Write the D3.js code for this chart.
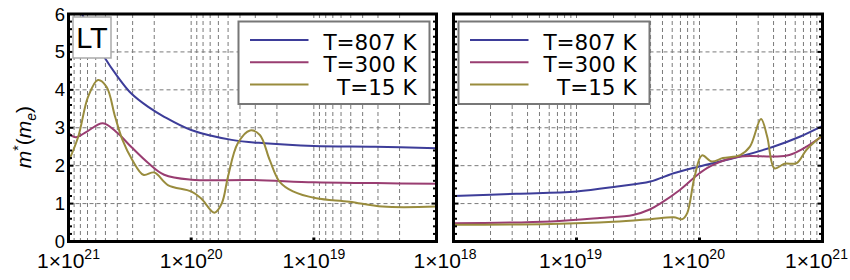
<!DOCTYPE html>
<html>
<head>
<meta charset="utf-8">
<script src="https://cdn.jsdelivr.net/npm/d3@7"></script>
<style>
  body { margin: 0; background: #fff; }
  svg { display: block; }
</style>
</head>
<body>
<svg id="chart" width="850" height="280"></svg>
<script>
// DATA (x values are log10 of the density, y values are m*/m_e)
const seriesNames = ['T=807 K', 'T=300 K', 'T=15 K'];
const seriesColors = ['#3d3d99', '#993d71', '#998c3d'];

// left panel, density falls from 1e21 to 1e18
const leftBlueLog = [21.0, 20.89, 20.8, 20.71, 20.6, 20.49, 20.35, 20.22, 20.0, 19.67, 19.4, 19.0, 18.5, 18.0];
const leftBlueVal = [6.8, 6.0, 5.4, 4.87, 4.35, 3.91, 3.55, 3.29, 2.94, 2.68, 2.59, 2.52, 2.50, 2.46];
const leftPinkLog = [21.0, 20.94, 20.85, 20.72, 20.6, 20.49, 20.35, 20.22, 20.0, 19.5, 19.0, 18.5, 18.0];
const leftPinkVal = [2.86, 2.75, 2.9, 3.12, 2.86, 2.50, 2.07, 1.76, 1.63, 1.62, 1.56, 1.54, 1.52];
const leftOliveLog = [21.0, 20.92, 20.84, 20.76, 20.69, 20.62, 20.56, 20.48, 20.39, 20.30, 20.19, 20.0, 19.92,
  19.81, 19.75, 19.70, 19.62, 19.52, 19.44, 19.36, 19.28, 19.17, 18.98, 18.71, 18.44, 18.0];
const leftOliveVal = [2.11, 2.77, 3.82, 4.26, 4.08, 3.29, 2.68, 2.15, 1.76, 1.82, 1.49, 1.32, 1.14,
  0.76, 1.01, 1.71, 2.59, 2.93, 2.81, 2.15, 1.58, 1.32, 1.14, 1.05, 0.92, 0.92];

// right panel, density rises from 1e18 to 1e21
const rightBlueLog = [18.0, 18.51, 19.0, 19.33, 19.6, 19.79, 20.0, 20.33, 20.6, 20.82, 21.0];
const rightBlueVal = [1.20, 1.26, 1.32, 1.45, 1.58, 1.80, 1.98, 2.24, 2.50, 2.77, 3.05];
const rightPinkLog = [18.0, 18.79, 19.19, 19.46, 19.6, 19.68, 19.84, 20.0, 20.11, 20.33, 20.6, 20.73, 20.87, 21.0];
const rightPinkVal = [0.48, 0.53, 0.62, 0.70, 0.85, 1.0, 1.36, 1.80, 2.02, 2.24, 2.24, 2.28, 2.50, 2.78];
const rightOliveLog = [18.0, 18.79, 19.3, 19.6, 19.79, 19.86, 19.90, 19.96, 20.02, 20.10, 20.19, 20.33, 20.41,
  20.50, 20.55, 20.61, 20.69, 20.79, 20.87, 20.98, 21.0];
const rightOliveVal = [0.44, 0.46, 0.52, 0.59, 0.64, 0.59, 0.75, 1.71, 2.27, 2.11, 2.20, 2.28, 2.50,
  3.23, 2.77, 1.93, 2.05, 2.07, 2.42, 2.75, 2.80];

const yTicks = [0, 1, 2, 3, 4, 5, 6];
const decadeExps = [18, 19, 20, 21];

const svg = d3.select('#chart');
const plotTop = 14;
const plotBottom = 241.5;

const y = d3.scaleLinear().domain([0, 6]).range([plotBottom, plotTop]);

function zip(logs, vals) {
  return logs.map((l, i) => ({ n: Math.pow(10, l), v: vals[i] }));
}

/**
 * Draws one framed panel with its grid, ticks, curves and legend.
 */
function drawPanel(id, x0, x1, domain, series, legendX) {
  const x = d3.scaleLog().domain(domain).range([x0, x1]);
  const g = svg.append('g');

  g.append('clipPath').attr('id', 'clip' + id)
    .append('rect')
    .attr('x', x0).attr('y', plotTop)
    .attr('width', x1 - x0).attr('height', plotBottom - plotTop);

  // vertical grid on every 1..9 x 10^k
  const gridX = [];
  for (let e = 18; e < 21; e++) {
    for (let m = 1; m <= 9; m++) {
      if (e === 18 && m === 1) continue;
      gridX.push(m * Math.pow(10, e));
    }
  }
  g.selectAll('line.vgrid')
    .data(gridX)
    .join('line')
    .attr('class', 'vgrid')
    .attr('x1', (d) => x(d)).attr('x2', (d) => x(d))
    .attr('y1', plotTop).attr('y2', plotBottom)
    .attr('stroke', '#7a7a7a')
    .attr('stroke-width', 1)
    .attr('stroke-dasharray', '4,3');

  g.selectAll('line.hgrid')
    .data([1, 2, 3, 4, 5])
    .join('line')
    .attr('class', 'hgrid')
    .attr('x1', x0).attr('x2', x1)
    .attr('y1', (d) => y(d)).attr('y2', (d) => y(d))
    .attr('stroke', '#7a7a7a')
    .attr('stroke-width', 1)
    .attr('stroke-dasharray', '4,3');

  // curves
  const line = d3.line()
    .x((d) => x(d.n))
    .y((d) => y(d.v))
    .curve(d3.curveCatmullRom.alpha(0.5));

  g.append('g')
    .attr('clip-path', `url(#clip${id})`)
    .selectAll('path')
    .data(series)
    .join('path')
    .attr('d', (d) => line(d))
    .attr('fill', 'none')
    .attr('stroke', (d, i) => seriesColors[i])
    .attr('stroke-width', 2);

  // y ticks on both sides, every 0.2
  const minor = d3.range(0, 31).map((i) => i / 5);
  [x0, x1].forEach((edge) => {
    const dir = edge === x0 ? 1 : -1;
    g.selectAll(null)
      .data(minor)
      .join('line')
      .attr('x1', edge)
      .attr('x2', (d) => edge + dir * (Math.abs(d - Math.round(d)) < 1e-6 ? 5 : 3.5))
      .attr('y1', (d) => y(d)).attr('y2', (d) => y(d))
      .attr('stroke', '#000')
      .attr('stroke-width', 2);
  });

  // x major ticks at decades
  g.selectAll(null)
    .data(decadeExps.map((e) => Math.pow(10, e)).filter((d) => x(d) > Math.min(x0, x1) + 2 && x(d) < Math.max(x0, x1) - 2))
    .join('line')
    .attr('x1', (d) => x(d)).attr('x2', (d) => x(d))
    .attr('y1', plotBottom).attr('y2', plotBottom - 4)
    .attr('stroke', '#000')
    .attr('stroke-width', 3);

  // frame
  g.append('rect')
    .attr('x', x0).attr('y', plotTop)
    .attr('width', x1 - x0).attr('height', plotBottom - plotTop)
    .attr('fill', 'none')
    .attr('stroke', '#000')
    .attr('stroke-width', 3);

  // legend
  const lg = g.append('g').attr('transform', `translate(${legendX},21.5)`);
  lg.append('rect')
    .attr('width', 191).attr('height', 82.5)
    .attr('fill', '#fff')
    .attr('stroke', '#777')
    .attr('stroke-width', 2);
  const rows = lg.selectAll('g.row')
    .data(seriesNames)
    .join('g')
    .attr('class', 'row')
    .attr('transform', (d, i) => `translate(0,${18.5 + i * 22.3})`);
  rows.append('line')
    .attr('x1', 11.5).attr('x2', 70)
    .attr('stroke', (d, i) => seriesColors[i])
    .attr('stroke-width', 2);
  rows.append('text')
    .attr('x', 178).attr('y', 10)
    .attr('text-anchor', 'end')
    .attr('font-family', 'DejaVu Sans')
    .attr('font-size', 21.5)
    .text((d) => d);

  return x;
}

const xl = drawPanel('L', 68.5, 436.5, [1e21, 1e18], [
  zip(leftBlueLog, leftBlueVal),
  zip(leftPinkLog, leftPinkVal),
  zip(leftOliveLog, leftOliveVal),
], 238.5);

const xr = drawPanel('R', 453.5, 822.5, [1e18, 1e21], [
  zip(rightBlueLog, rightBlueVal),
  zip(rightPinkLog, rightPinkVal),
  zip(rightOliveLog, rightOliveVal),
], 458.5);

// y tick labels
svg.selectAll('text.ylab')
  .data(yTicks)
  .join('text')
  .attr('class', 'ylab')
  .attr('x', 65)
  .attr('y', (d) => y(d) + 6.5)
  .attr('text-anchor', 'end')
  .attr('font-family', 'Liberation Sans')
  .attr('font-size', 18.5)
  .text((d) => d);

// x tick labels, the two 1e18 labels share one place between the panels
const xLabels = [
  { e: 21, x: xl(1e21) },
  { e: 20, x: xl(1e20) },
  { e: 19, x: xl(1e19) },
  { e: 18, x: (xl(1e18) + xr(1e18)) / 2 },
  { e: 19, x: xr(1e19) - 6 },
  { e: 20, x: xr(1e20) - 6 },
  { e: 21, x: xr(1e21) - 6 },
];
const xt = svg.selectAll('text.xlab')
  .data(xLabels)
  .join('text')
  .attr('class', 'xlab')
  .attr('x', (d) => d.x)
  .attr('y', 268)
  .attr('text-anchor', 'middle')
  .attr('font-family', 'Liberation Sans')
  .attr('font-size', 21);
xt.append('tspan').text('1\u00d710');
xt.append('tspan')
  .attr('dy', -9)
  .attr('font-size', 14)
  .text((d) => d.e);
// keep the last label inside the page
xt.each(function (d) {
  const w = this.getComputedTextLength();
  if (d.x + w / 2 > 848) d3.select(this).attr('x', 848 - w / 2);
});

// y axis title
const yt = svg.append('text')
  .attr('transform', 'translate(31,137) rotate(-90)')
  .attr('text-anchor', 'middle')
  .attr('font-family', 'Liberation Sans')
  .attr('font-size', 21);
yt.append('tspan').attr('font-style', 'italic').text('m');
yt.append('tspan').attr('dy', -8).attr('font-size', 14).text('*');
yt.append('tspan').attr('dy', 8).text('(');
yt.append('tspan').attr('font-style', 'italic').text('m');
yt.append('tspan').attr('dy', 5).attr('font-size', 14).attr('font-style', 'italic').text('e');
yt.append('tspan').attr('dy', -5).text(')');

// LT label box
svg.append('rect')
  .attr('x', 73).attr('y', 17)
  .attr('width', 38).attr('height', 41)
  .attr('fill', '#fff')
  .attr('stroke', '#aaa')
  .attr('stroke-width', 1.5);
svg.append('text')
  .attr('x', 92).attr('y', 48)
  .attr('text-anchor', 'middle')
  .attr('font-family', 'Liberation Sans')
  .attr('font-size', 29)
  .text('LT');
</script>
</body>
</html>
